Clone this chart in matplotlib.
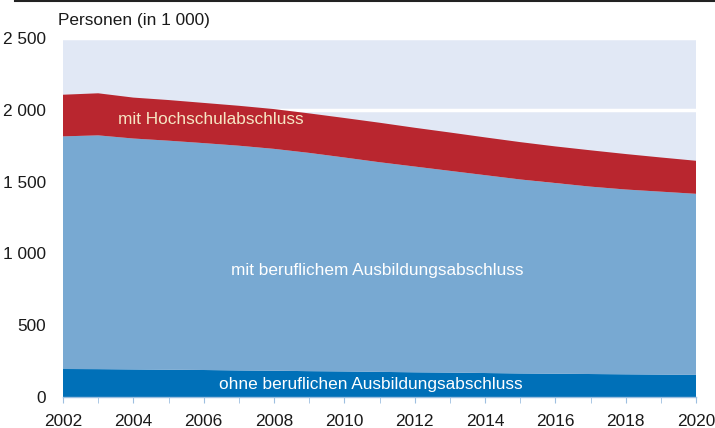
import numpy as np
import matplotlib
matplotlib.use("Agg")
import matplotlib.pyplot as plt
from matplotlib.lines import Line2D

plt.rcParams['font.family'] = ['Liberation Sans', 'DejaVu Sans']

years = list(range(2002, 2021))
# persons in 1 000
ohne = [195, 194, 192, 190, 188, 185, 183, 180, 178, 175, 172, 170, 167, 164, 162, 160, 158, 156, 154]
# cumulative tops, converted to layer values below
top_beruf = [1815, 1822, 1800, 1785, 1768, 1750, 1728, 1700, 1668, 1635, 1605, 1575, 1545, 1515, 1490, 1465, 1445, 1430, 1415]
top_total = [2105, 2115, 2085, 2068, 2048, 2028, 2005, 1975, 1943, 1910, 1875, 1842, 1808, 1775, 1745, 1718, 1692, 1668, 1645]

beruf = [b - o for b, o in zip(top_beruf, ohne)]
hoch = [t - b for t, b in zip(top_total, top_beruf)]

labels = ["ohne beruflichen Ausbildungsabschluss",
          "mit beruflichem Ausbildungsabschluss",
          "mit Hochschulabschluss"]
colors = ["#0070b8", "#78a9d2", "#b9262f"]
label_colors = ["white", "white", "#f6e6c4"]
# label anchor (year, value)
label_pos = [(2010.75, 90), (2010.93, 880), (2006.2, 1930)]

fig = plt.figure(figsize=(7.15, 4.28), dpi=100)
ax = fig.add_axes([63 / 715, 31 / 428, 633 / 715, 359 / 428])
ax.set_facecolor("#e1e8f5")

ax.stackplot(years, ohne, beruf, hoch, colors=colors, linewidth=0, zorder=2)

ax.set_xlim(2002, 2020)
ax.set_ylim(0, 2500)
ax.set_yticks([0, 500, 1000, 1500, 2000, 2500])
ax.set_yticklabels(["0", "500", "1 000", "1 500", "2 000", "2 500"])
ax.set_xticks(range(2002, 2021, 2))
ax.set_xticks(years, minor=True)
ax.grid(axis="y", color="white", linewidth=2.5, zorder=1)
ax.set_axisbelow(True)

for s in ["top", "right", "left"]:
    ax.spines[s].set_visible(False)
ax.spines["bottom"].set_color("#9dbfe0")
ax.spines["bottom"].set_linewidth(1)

ax.tick_params(axis="y", length=0, labelsize=12.4, pad=12, colors="#1a1a1a")
ax.tick_params(axis="x", which="both", length=4, color="#9dbfe0", labelsize=12.4, pad=8,
               labelcolor="#1a1a1a")

for lab, col, (lx, ly) in zip(labels, label_colors, label_pos):
    ax.text(lx, ly, lab, color=col, fontsize=12.4, ha="center", va="center", zorder=3)

fig.text(58 / 715, 1 - 20 / 428, "Personen (in 1 000)", fontsize=12.4, color="#1a1a1a",
         ha="left", va="center")
fig.add_artist(Line2D([15 / 715, 1], [1 - 1 / 428, 1 - 1 / 428], color="#222222", linewidth=1.5))

fig.savefig("out.png", dpi=100)
